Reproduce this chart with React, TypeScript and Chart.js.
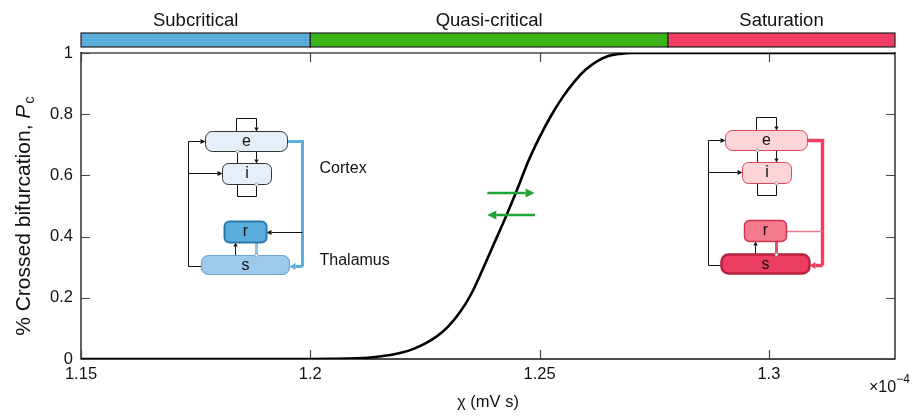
import React, { useEffect, useRef } from 'react';
import { Chart, registerables } from 'chart.js';

Chart.register(...registerables);

// ---- data (chi in units of 1e-4 mV s) ----
const chiValues = [1.15, 1.2, 1.205, 1.21, 1.2125, 1.215, 1.2175, 1.22, 1.2225, 1.225, 1.2275, 1.23, 1.2325, 1.235, 1.2375, 1.24, 1.2425, 1.245, 1.2475, 1.25, 1.2525, 1.255, 1.2575, 1.26, 1.2625, 1.265, 1.2675, 1.27, 1.275, 1.3275];
const pcValues = [0, 0, 0.0005, 0.002, 0.004, 0.008, 0.013, 0.021, 0.033, 0.05, 0.073, 0.105, 0.15, 0.21, 0.29, 0.375, 0.46, 0.55, 0.645, 0.725, 0.795, 0.855, 0.905, 0.945, 0.973, 0.99, 0.997, 1.0, 1.0, 1.0];

const xTicks = [1.15, 1.2, 1.25, 1.3];
const yTicks = [0, 0.2, 0.4, 0.6, 0.8, 1];
const xMin = 1.15;
const xMax = 1.3275;

const regimeNames = ['Subcritical', 'Quasi-critical', 'Saturation'];
const regimeStarts = [1.15, 1.2, 1.278];
const regimeEnds = [1.2, 1.278, 1.3275];
const regimeColors = ['#5BADDA', '#3BB517', '#EF3D63'];

// arrow annotations (data coordinates)
const arrowRight = { x1: 1.2386, x2: 1.2489, y: 0.5425 };
const arrowLeft = { x1: 1.249, x2: 1.2386, y: 0.4706 };

// circuit anchors (data coordinates)
const leftCircuitAnchor = { x: 1.1734, y: 0.7876 };
const rightCircuitAnchor = { x: 1.2867, y: 0.791 };

const FONT = '"Liberation Sans", Arial, Helvetica, sans-serif';

function arrowHead(ctx: CanvasRenderingContext2D, x1: number, y1: number, x2: number, y2: number, color: string, lw: number, head: number, hw: number) {
  const ang = Math.atan2(y2 - y1, x2 - x1);
  const bx = x2 - head * Math.cos(ang);
  const by = y2 - head * Math.sin(ang);
  ctx.strokeStyle = color;
  ctx.lineWidth = lw;
  ctx.beginPath();
  ctx.moveTo(x1, y1);
  ctx.lineTo(bx, by);
  ctx.stroke();
  ctx.fillStyle = color;
  ctx.beginPath();
  ctx.moveTo(x2, y2);
  ctx.lineTo(bx + hw * Math.sin(ang), by - hw * Math.cos(ang));
  ctx.lineTo(bx - hw * Math.sin(ang), by + hw * Math.cos(ang));
  ctx.closePath();
  ctx.fill();
}

function polyArrow(ctx: CanvasRenderingContext2D, pts: number[][], color: string, lw: number, head: number, hw: number) {
  ctx.strokeStyle = color;
  ctx.lineWidth = lw;
  ctx.lineJoin = 'miter';
  ctx.beginPath();
  ctx.moveTo(pts[0][0], pts[0][1]);
  for (let k = 1; k < pts.length - 1; k++) ctx.lineTo(pts[k][0], pts[k][1]);
  ctx.stroke();
  const a = pts[pts.length - 2];
  const b = pts[pts.length - 1];
  arrowHead(ctx, a[0], a[1], b[0], b[1], color, lw, head, hw);
}

function polyLine(ctx: CanvasRenderingContext2D, pts: number[][], color: string, lw: number) {
  ctx.strokeStyle = color;
  ctx.lineWidth = lw;
  ctx.beginPath();
  ctx.moveTo(pts[0][0], pts[0][1]);
  for (let k = 1; k < pts.length; k++) ctx.lineTo(pts[k][0], pts[k][1]);
  ctx.stroke();
}

function dot(ctx: CanvasRenderingContext2D, x: number, y: number) {
  ctx.fillStyle = '#fff';
  ctx.strokeStyle = '#888';
  ctx.lineWidth = 0.8;
  ctx.beginPath();
  ctx.arc(x, y, 1.6, 0, Math.PI * 2);
  ctx.fill();
  ctx.stroke();
}

function rrect(ctx: CanvasRenderingContext2D, x: number, y: number, w: number, h: number, r: number, fill: string, stroke: string, lw: number) {
  ctx.beginPath();
  ctx.moveTo(x + r, y);
  ctx.lineTo(x + w - r, y);
  ctx.arcTo(x + w, y, x + w, y + r, r);
  ctx.lineTo(x + w, y + h - r);
  ctx.arcTo(x + w, y + h, x + w - r, y + h, r);
  ctx.lineTo(x + r, y + h);
  ctx.arcTo(x, y + h, x, y + h - r, r);
  ctx.lineTo(x, y + r);
  ctx.arcTo(x, y, x + r, y, r);
  ctx.closePath();
  ctx.fillStyle = fill;
  ctx.fill();
  ctx.strokeStyle = stroke;
  ctx.lineWidth = lw;
  ctx.stroke();
}

type Palette = {
  eFill: string; eStroke: string;
  rFill: string; rStroke: string; rLw: number;
  sFill: string; sStroke: string; sLw: number;
  out: string; outLw: number;
  rs: string;
  rLink: string; rLinkArrow: boolean; rLinkLw: number;
  labels: boolean;
};

const bluePal: Palette = {
  eFill: '#E6EFF9', eStroke: '#333', rFill: '#5AAEDB', rStroke: '#2C78B0', rLw: 2,
  sFill: '#9DCAEA', sStroke: '#6AA5D5', sLw: 1.2, out: '#5AAEDB', outLw: 3,
  rs: '#8AC6EA', rLink: '#111', rLinkArrow: true, rLinkLw: 1, labels: true,
};
const redPal: Palette = {
  eFill: '#FDD4D8', eStroke: '#D8495C', rFill: '#F57A8E', rStroke: '#D0354F', rLw: 1.5,
  sFill: '#EC3D62', sStroke: '#B8213F', sLw: 2.5, out: '#EF3E64', outLw: 3.5,
  rs: '#EF4D6C', rLink: '#F07A90', rLinkArrow: false, rLinkLw: 1.5, labels: false,
};

function drawCircuit(ctx: CanvasRenderingContext2D, ox: number, oy: number, p: Palette) {
  const X = (v: number) => ox + v;
  const Y = (v: number) => oy + v;
  const black = '#111';
  // left feedback line
  polyLine(ctx, [[X(13), Y(148)], [X(0), Y(148)], [X(0), Y(23)]], black, 1);
  arrowHead(ctx, X(0), Y(23), X(17), Y(23), black, 1, 5, 2.5);
  arrowHead(ctx, X(0), Y(55), X(34), Y(55), black, 1, 5, 2.5);
  // e self loop
  polyLine(ctx, [[X(48), Y(13)], [X(48), Y(0)], [X(68), Y(0)]], black, 1);
  arrowHead(ctx, X(68), Y(0), X(68), Y(13), black, 1, 4, 2.2);
  // e -> i and i -> e
  arrowHead(ctx, X(68), Y(33), X(68), Y(45), black, 1, 4, 2.2);
  polyLine(ctx, [[X(49), Y(45)], [X(49), Y(33)]], black, 1);
  // i self loop
  polyLine(ctx, [[X(49), Y(66)], [X(49), Y(78)], [X(68), Y(78)], [X(68), Y(66)]], black, 1);
  // output line e -> s
  ctx.lineJoin = 'miter';
  polyArrow(ctx, [[X(99), Y(23)], [X(114), Y(23)], [X(114), Y(148)], [X(101), Y(148)]], p.out, p.outLw, 6, 3.5);
  // link to r
  if (p.rLinkArrow) arrowHead(ctx, X(114), Y(114), X(78), Y(114), p.rLink, p.rLinkLw, 5, 2.5);
  else polyLine(ctx, [[X(114), Y(114)], [X(78), Y(114)]], p.rLink, p.rLinkLw);
  // s -> r
  arrowHead(ctx, X(47), Y(137), X(47), Y(124), black, 1, 4, 2.2);
  // r -| s
  polyLine(ctx, [[X(68), Y(124)], [X(68), Y(137)]], p.rs, 3);

  // boxes
  rrect(ctx, X(17), Y(13), 82, 20, 7, p.eFill, p.eStroke, 1);
  rrect(ctx, X(34), Y(45), 49, 21, 6, p.eFill, p.eStroke, 1);
  rrect(ctx, X(36), Y(103), 42, 21, 5, p.rFill, p.rStroke, p.rLw);
  rrect(ctx, X(13), Y(137), 88, 19, 7, p.sFill, p.sStroke, p.sLw);
  dot(ctx, X(49), Y(33));
  dot(ctx, X(68), Y(66));
  dot(ctx, X(68), Y(137));

  ctx.fillStyle = '#111';
  ctx.font = `16px ${FONT}`;
  ctx.textAlign = 'center';
  ctx.textBaseline = 'middle';
  ctx.fillText('e', X(58), Y(23));
  ctx.fillText('i', X(58.5), Y(55.5));
  ctx.fillText('r', X(57), Y(113.5));
  ctx.fillText('s', X(57), Y(147));
  if (p.labels) {
    ctx.textAlign = 'left';
    ctx.fillText('Cortex', X(131), Y(50));
    ctx.fillText('Thalamus', X(131), Y(142));
  }
}

const decorPlugin = {
  id: 'decor',
  beforeDatasetsDraw(chart: any) {
    const { ctx, chartArea: a, scales } = chart;
    const xs = scales.x;
    const ys = scales.y;
    ctx.save();
    // frame
    ctx.lineCap = 'butt';
    ctx.strokeStyle = '#777';
    ctx.lineWidth = 2;
    ctx.beginPath();
    ctx.moveTo(a.left, a.top);
    ctx.lineTo(a.right, a.top);
    ctx.stroke();
    ctx.strokeStyle = '#111';
    ctx.lineWidth = 1.3;
    ctx.beginPath();
    ctx.moveTo(a.left, a.top - 1);
    ctx.lineTo(a.left, a.bottom);
    ctx.lineTo(a.right, a.bottom);
    ctx.lineTo(a.right, a.top - 1);
    ctx.stroke();
    // inward ticks
    ctx.strokeStyle = '#444';
    ctx.lineWidth = 1.2;
    const tl = 9;
    xTicks.forEach((v) => {
      const px = Math.round(xs.getPixelForValue(v)) + 0.5;
      ctx.beginPath();
      ctx.moveTo(px, a.bottom);
      ctx.lineTo(px, a.bottom - tl);
      ctx.moveTo(px, a.top);
      ctx.lineTo(px, a.top + tl);
      ctx.stroke();
    });
    yTicks.forEach((v) => {
      const py = Math.round(ys.getPixelForValue(v)) + 0.5;
      ctx.beginPath();
      ctx.moveTo(a.left, py);
      ctx.lineTo(a.left + tl, py);
      ctx.moveTo(a.right, py);
      ctx.lineTo(a.right - tl, py);
      ctx.stroke();
    });

    // regime band
    const bTop = 33;
    const bH = 14;
    regimeNames.forEach((name, k) => {
      const x1 = xs.getPixelForValue(regimeStarts[k]);
      const x2 = xs.getPixelForValue(regimeEnds[k]);
      ctx.fillStyle = regimeColors[k];
      ctx.fillRect(x1, bTop, x2 - x1, bH);
      ctx.strokeStyle = '#222';
      ctx.lineWidth = 1.2;
      ctx.strokeRect(x1, bTop, x2 - x1, bH);
      ctx.fillStyle = '#111';
      ctx.font = `18.5px ${FONT}`;
      ctx.textAlign = 'center';
      ctx.textBaseline = 'alphabetic';
      ctx.fillText(name, (x1 + x2) / 2, 25.5);
    });

    // circuits
    drawCircuit(ctx, Math.round(xs.getPixelForValue(leftCircuitAnchor.x)) + 0.5, Math.round(ys.getPixelForValue(leftCircuitAnchor.y)) + 0.5, bluePal);
    drawCircuit(ctx, Math.round(xs.getPixelForValue(rightCircuitAnchor.x)) + 0.5, Math.round(ys.getPixelForValue(rightCircuitAnchor.y)) + 0.5, redPal);

    // y axis title
    ctx.save();
    ctx.translate(24, 216);
    ctx.rotate(-Math.PI / 2);
    ctx.fillStyle = '#111';
    ctx.textBaseline = 'middle';
    ctx.textAlign = 'left';
    const t1 = '% Crossed bifurcation, ';
    ctx.font = `21px ${FONT}`;
    const w1 = ctx.measureText(t1).width;
    ctx.font = `italic 21px ${FONT}`;
    const w2 = ctx.measureText('P').width;
    ctx.font = `15px ${FONT}`;
    const w3 = ctx.measureText('c').width;
    const total = w1 + w2 + w3 + 1;
    let cx = -total / 2;
    ctx.font = `21px ${FONT}`;
    ctx.fillText(t1, cx, 0);
    cx += w1;
    ctx.font = `italic 21px ${FONT}`;
    ctx.fillText('P', cx, 0);
    cx += w2 + 1;
    ctx.font = `15px ${FONT}`;
    ctx.fillText('c', cx, 6);
    ctx.restore();

    // x10^-4
    ctx.fillStyle = '#111';
    ctx.textAlign = 'left';
    ctx.textBaseline = 'alphabetic';
    ctx.font = `16px ${FONT}`;
    ctx.fillText('\u00d710', 869, 392);
    const wx = ctx.measureText('\u00d710').width;
    ctx.font = `12px ${FONT}`;
    ctx.fillText('\u22124', 869 + wx, 383);
    ctx.restore();
  },
  afterDatasetsDraw(chart: any) {
    const { ctx, scales } = chart;
    const xs = scales.x;
    const ys = scales.y;
    ctx.save();
    const green = '#1FA33A';
    arrowHead(ctx, xs.getPixelForValue(arrowRight.x1), ys.getPixelForValue(arrowRight.y), xs.getPixelForValue(arrowRight.x2), ys.getPixelForValue(arrowRight.y), green, 2.5, 9, 4.5);
    arrowHead(ctx, xs.getPixelForValue(arrowLeft.x1), ys.getPixelForValue(arrowLeft.y), xs.getPixelForValue(arrowLeft.x2), ys.getPixelForValue(arrowLeft.y), green, 2.5, 9, 4.5);
    ctx.restore();
  },
};

export default function App() {
  const ref = useRef<HTMLCanvasElement | null>(null);
  useEffect(() => {
    if (!ref.current) return;
    const data = chiValues.map((x, k) => ({ x, y: pcValues[k] }));
    const chart = new Chart(ref.current, {
      type: 'line',
      data: {
        datasets: [
          {
            data,
            borderColor: '#000',
            borderWidth: 2.6,
            pointRadius: 0,
            cubicInterpolationMode: 'monotone',
            fill: false,
          },
        ],
      },
      options: {
        animation: false,
        responsive: false,
        maintainAspectRatio: false,
        devicePixelRatio: 1,
        layout: { padding: { top: 53, right: 24, left: 0, bottom: 0 } },
        plugins: { legend: { display: false }, tooltip: { enabled: false }, title: { display: false } },
        scales: {
          x: {
            type: 'linear',
            min: xMin,
            max: xMax,
            afterBuildTicks: (s: any) => {
              s.ticks = xTicks.map((v) => ({ value: v }));
            },
            afterFit: (s: any) => {
              s.height = 57;
            },
            grid: { display: false, drawTicks: false },
            border: { display: false },
            ticks: {
              padding: 6,
              maxRotation: 0,
              autoSkip: false,
              color: '#111',
              font: { family: FONT, size: 16.5 },
              callback: (v: any) => String(v),
            },
            title: {
              display: true,
              text: '\u03c7 (mV s)',
              color: '#111',
              font: { family: FONT, size: 16.5 },
              padding: { top: 0, bottom: 4 },
            },
          },
          y: {
            type: 'linear',
            min: 0,
            max: 1,
            afterBuildTicks: (s: any) => {
              s.ticks = yTicks.map((v) => ({ value: v }));
            },
            afterFit: (s: any) => {
              s.width = 81;
            },
            grid: { display: false, drawTicks: false },
            border: { display: false },
            ticks: {
              padding: 8,
              color: '#111',
              font: { family: FONT, size: 16.5 },
              callback: (v: any) => String(v),
            },
          },
        },
      },
      plugins: [decorPlugin],
    } as any);
    return () => chart.destroy();
  }, []);
  return (
    <div style={{ position: 'fixed', left: 0, top: 0, width: 919, height: 416, background: '#fff' }}>
      <canvas ref={ref} width={919} height={416} style={{ display: 'block', width: 919, height: 416 }} />
    </div>
  );
}
